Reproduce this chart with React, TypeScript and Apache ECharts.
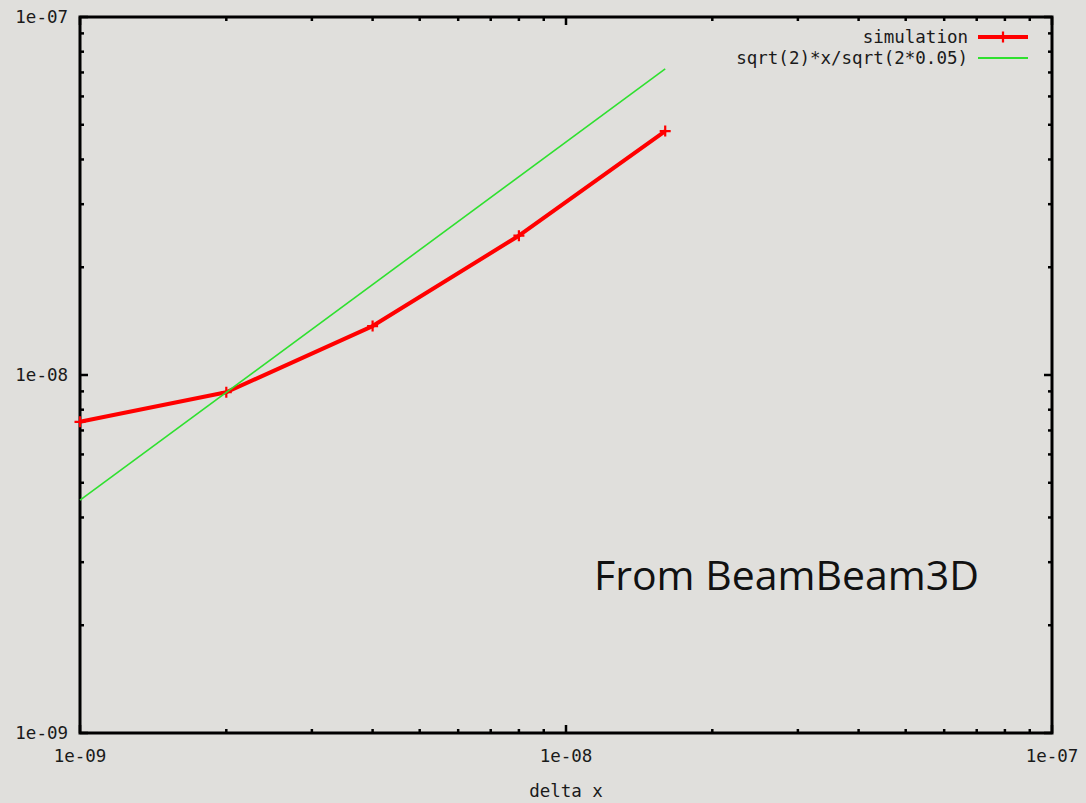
import React, { useEffect, useRef } from "react";
import * as echarts from "echarts";

// Measured convergence data (log-log)
const simX = [1e-9, 2e-9, 4e-9, 8e-9, 1.6e-8];
const simY = [7.4e-9, 8.95e-9, 1.37e-8, 2.45e-8, 4.8e-8];

// Reference line sqrt(2)*x/sqrt(2*0.05), straight in log-log space
const refX = [1e-9, 1.6e-8];
const refY = [4.47e-9, 7.16e-8];

const xMin = 1e-9;
const xMax = 1e-7;
const yMin = 1e-9;
const yMax = 1e-7;

// Tick positions in the gnuplot style: majors at decades, minors at 2..9
const tickValues = [
  1e-9, 2e-9, 3e-9, 4e-9, 5e-9, 6e-9, 7e-9, 8e-9, 9e-9,
  1e-8, 2e-8, 3e-8, 4e-8, 5e-8, 6e-8, 7e-8, 8e-8, 9e-8, 1e-7,
];

const simName = "simulation";
const refName = "sqrt(2)*x/sqrt(2*0.05)";
const annotation = "From BeamBeam3D";
const xTitle = "delta x";

const mono = "DejaVu Sans Mono";
const textColor = "#1a1a1a";
const red = "#ff0000";
const green = "#2fe02f";

const fmtExp = (v: number) => {
  const e = Math.round(Math.log10(v));
  const s = e < 0 ? "-" : "+";
  return `1e${s}${String(Math.abs(e)).padStart(2, "0")}`;
};

const isDecade = (v: number) => {
  const l = Math.log10(v);
  return Math.abs(l - Math.round(l)) < 1e-6;
};

const plusSymbol = "path://M4,0H6V4H10V6H6V10H4V6H0V4H4Z";

export default function App() {
  const ref = useRef<HTMLDivElement>(null);

  useEffect(() => {
    if (!ref.current) return;
    const chart = echarts.init(ref.current, null, { renderer: "svg" });

    const tickStyle = { stroke: "#000", lineWidth: 2.5 };

    chart.setOption({
      animation: false,
      backgroundColor: "#e0dfdc",
      grid: {
        left: 80,
        right: 34,
        top: 17,
        bottom: 70,
        outerBoundsMode: "none",
        containLabel: false,
        show: true,
        borderColor: "#000",
        borderWidth: 3,
        backgroundColor: "transparent",
      },
      legend: {
        orient: "vertical",
        align: "right",
        right: 56,
        top: 28,
        padding: 0,
        itemWidth: 50,
        itemHeight: 14,
        itemGap: 3,
        textStyle: {
          fontFamily: mono,
          fontSize: 17.5,
          color: textColor,
          lineHeight: 18,
          padding: [0, 5, 0, 0],
        },
        data: [
          { name: simName, lineStyle: { width: 4, color: red } },
          { name: refName, lineStyle: { width: 2, color: green }, itemStyle: { opacity: 0 } },
        ],
      },
      xAxis: {
        type: "log",
        logBase: 10,
        min: xMin,
        max: xMax,
        name: xTitle,
        nameLocation: "middle",
        nameGap: 49,
        nameTextStyle: { fontFamily: mono, fontSize: 17.5, color: textColor },
        axisLine: { show: false },
        axisTick: { show: false },
        splitLine: { show: false },
        axisLabel: {
          fontFamily: mono,
          fontSize: 17.5,
          color: textColor,
          margin: 14,
          formatter: (v: number) => fmtExp(v),
        },
      },
      yAxis: {
        type: "log",
        logBase: 10,
        min: yMin,
        max: yMax,
        axisLine: { show: false },
        axisTick: { show: false },
        splitLine: { show: false },
        axisLabel: {
          fontFamily: mono,
          fontSize: 17.5,
          color: textColor,
          margin: 12,
          formatter: (v: number) => fmtExp(v),
        },
      },
      series: [
        {
          name: simName,
          type: "line",
          data: simX.map((x, i) => [x, simY[i]]),
          symbol: plusSymbol,
          symbolSize: 11,
          showSymbol: true,
          lineStyle: { color: red, width: 4 },
          itemStyle: { color: red },
          z: 3,
        },
        {
          name: refName,
          type: "line",
          data: refX.map((x, i) => [x, refY[i]]),
          symbol: "none",
          lineStyle: { color: green, width: 1.6 },
          itemStyle: { color: green },
          z: 4,
        },
        {
          // x ticks on bottom and mirrored on top
          type: "custom",
          silent: true,
          clip: false,
          data: tickValues.map((v) => [v, yMin]),
          renderItem: (_p: any, api: any) => {
            const v = api.value(0);
            const len = isDecade(v) ? 8 : 4;
            const b = api.coord([v, yMin]);
            const t = api.coord([v, yMax]);
            return {
              type: "group",
              children: [
                { type: "line", shape: { x1: b[0], y1: b[1], x2: b[0], y2: b[1] - len }, style: tickStyle },
                { type: "line", shape: { x1: t[0], y1: t[1], x2: t[0], y2: t[1] + len }, style: tickStyle },
              ],
            };
          },
          z: 5,
        },
        {
          // y ticks on left and mirrored on right
          type: "custom",
          silent: true,
          clip: false,
          data: tickValues.map((v) => [xMin, v]),
          renderItem: (_p: any, api: any) => {
            const v = api.value(1);
            const len = isDecade(v) ? 8 : 4;
            const l = api.coord([xMin, v]);
            const r = api.coord([xMax, v]);
            return {
              type: "group",
              children: [
                { type: "line", shape: { x1: l[0], y1: l[1], x2: l[0] + len, y2: l[1] }, style: tickStyle },
                { type: "line", shape: { x1: r[0], y1: r[1], x2: r[0] - len, y2: r[1] }, style: tickStyle },
              ],
            };
          },
          z: 5,
        },
      ],
      graphic: [
        {
          type: "text",
          left: 594,
          top: 553,
          style: {
            text: annotation,
            fontFamily: "Open Sans",
            fontSize: 41,
            fill: "#111",
          },
        },
      ],
    });

    return () => chart.dispose();
  }, []);

  return (
    <div
      ref={ref}
      style={{ position: "absolute", left: 0, top: 0, width: 1086, height: 803 }}
    />
  );
}
